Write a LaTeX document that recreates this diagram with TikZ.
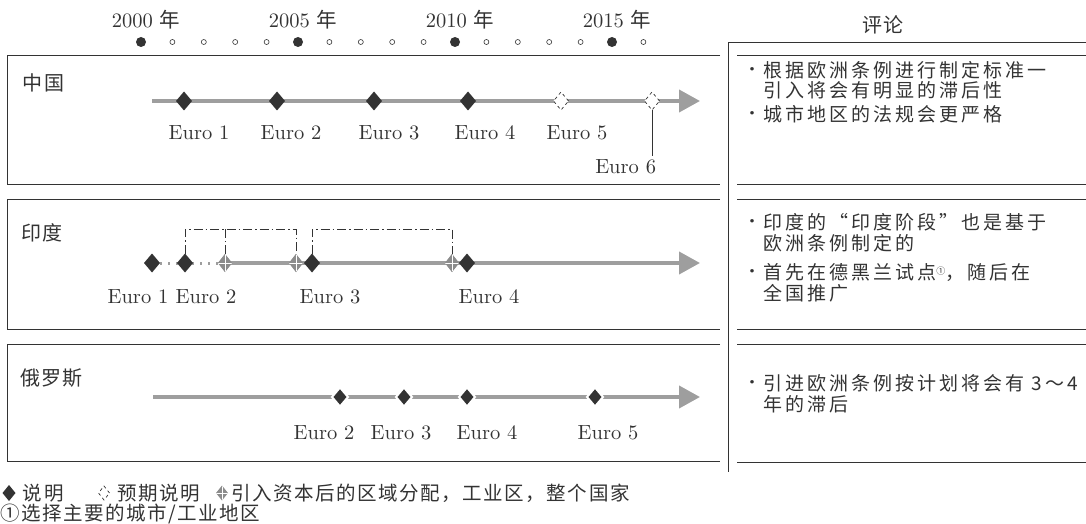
\documentclass[tikz,border=0pt]{standalone}
\usepackage{fontspec}
\newfontfamily\lmten{lmroman10-regular.otf}
\newfontfamily\cjk{Noto Sans CJK SC}
\newfontfamily\cjkl[LetterSpace=6]{Noto Sans CJK SC}
\newfontfamily\cjkw[LetterSpace=16]{Noto Sans CJK SC}
\newfontfamily\cjkg[LetterSpace=8]{Noto Sans CJK SC}
\usetikzlibrary{shapes.geometric,arrows.meta}
\definecolor{tl}{gray}{0.62}
\definecolor{dk}{gray}{0.2}
\definecolor{rg}{gray}{0.55}
\begin{document}
\begin{tikzpicture}[x=1pt,y=-1pt,
  every node/.style={inner sep=0pt, outer sep=0pt},
  lbl/.style={font=\lmten\fontsize{20.5}{22}\selectfont, text=dk},
  country/.style={font=\cjkl\fontsize{20}{22}\selectfont, anchor=west, text=dk},
  cmt/.style={font=\cjkw\fontsize{19}{20}\selectfont, anchor=west, text=dk},
  bul/.style={font=\fontsize{16}{18}\selectfont, text=dk},
  legtext/.style={font=\cjkg\fontsize{19.5}{20}\selectfont, anchor=west, text=dk},
  timeline/.style={draw=tl, line width=4pt, -{Triangle[length=21pt,width=22pt]}},
  dotted line/.style={draw=tl, line width=3pt, dash pattern=on 2pt off 6pt},
  milestone/.style={diamond, fill=dk, minimum width=16pt, minimum height=19pt},
  planned/.style={diamond, draw=dk, dashed, fill=white, line width=0.7pt, minimum width=15pt, minimum height=18pt},
  regional/.style={diamond, fill=rg, minimum width=14pt, minimum height=18pt,
     path picture={\draw[white, line width=0.8pt]
       (path picture bounding box.north) -- (path picture bounding box.south)
       (path picture bounding box.west) -- (path picture bounding box.east);}},
  gapped/.style={milestone, draw=white, line width=2pt},
  frame/.style={draw=dk, line width=0.8pt},
  bracket/.style={draw=dk, line width=0.7pt, dash pattern=on 9pt off 3pt on 1.5pt off 3pt},
  yeardot/.style={circle, fill=dk, minimum size=10pt},
  smalldot/.style={circle, draw=dk, line width=0.6pt, minimum size=5pt},
]
\useasboundingbox (0,0) rectangle (1086,524);

% ---------- year scale ----------
\foreach \y in {0,...,16} {
  \pgfmathsetmacro{\xx}{141+31.4*\y}
  \pgfmathtruncatemacro{\r}{mod(\y,5)}
  \ifnum\r=0
    \node[yeardot] (yd\y) at (\xx,42) {};
  \else
    \node[smalldot] (yd\y) at (\xx,42) {};
  \fi
}
\node[lbl] (y2000) at (146,20) {2000 {\cjk 年}};
\node[lbl] (y2005) at (303,20) {2005 {\cjk 年}};
\node[lbl] (y2010) at (460,20) {2010 {\cjk 年}};
\node[lbl] (y2015) at (617,20) {2015 {\cjk 年}};

% ---------- frames ----------
\draw[frame] (720,55) -- (7,55) -- (7,184) -- (720,184);
\draw[frame] (720,199) -- (7,199) -- (7,329) -- (720,329);
\draw[frame] (720,344) -- (7,344) -- (7,461) -- (720,461);
\draw[frame] (1086,42) -- (728,42) -- (728,472);
\draw[frame] (737,55) -- (1086,55);
\draw[frame] (737,184) -- (1086,184);
\draw[frame] (737,199) -- (1086,199);
\draw[frame] (737,329) -- (1086,329);
\draw[frame] (737,344) -- (1086,344);
\draw[frame] (737,462) -- (1086,462);

\node[font=\cjkl\fontsize{20}{22}\selectfont, text=dk] (hd) at (883,25) {评论};

% ---------- China ----------
\node[country] (cn) at (23,83) {中国};
\coordinate (cnS) at (152,101);
\coordinate (cnE) at (700,101);
\draw[timeline] (cnS) -- (cnE);
\node[milestone] (c1) at (184,101) {};
\node[milestone] (c2) at (277,101) {};
\node[milestone] (c3) at (374,101) {};
\node[milestone] (c4) at (468,101) {};
\node[planned] (c5) at (561,101) {};
\node[planned] (c6) at (652,101) {};
\node[lbl] (lc1) at (199,133) {Euro 1};
\node[lbl] (lc2) at (291,133) {Euro 2};
\node[lbl] (lc3) at (389,133) {Euro 3};
\node[lbl] (lc4) at (485,133) {Euro 4};
\node[lbl] (lc5) at (577,133) {Euro 5};
\node[lbl, anchor=east] (lc6) at (656,167) {Euro 6};
\draw[dk, line width=0.7pt] (c6.south) -- ([yshift=4pt]c6.south |- lc6.north);

% ---------- India ----------
\node[country] (in) at (21,233) {印度};
\coordinate (inE) at (700,263);
\coordinate (brk) at (0,229);
\coordinate (inS) at (152,263);
\node[regional] (r1) at (225,263) {};
\node[regional] (r2) at (296,263) {};
\node[regional] (r3) at (452,263) {};
\draw[dotted line] (inS) -- (r1.west);
\draw[timeline] (r1.center) -- (inE);
\node[regional] at (225,263) {};
\node[regional] at (296,263) {};
\node[regional] at (452,263) {};
\node[milestone] (i1) at (152,263) {};
\node[milestone] (i2) at (185,263) {};
\node[milestone] (i3) at (312,263) {};
\node[milestone] (i4) at (467,263) {};
\draw[bracket] (i2.north) -- (i2.north |- brk) -- (r2.north |- brk) -- (r2.north);
\draw[bracket] (r1.north) -- (r1.north |- brk);
\draw[bracket] (i3.north) -- (i3.north |- brk) -- (r3.north |- brk) -- (r3.north);
\node[lbl] (li1) at (138,297) {Euro 1};
\node[lbl] (li2) at (206,297) {Euro 2};
\node[lbl] (li3) at (330,297) {Euro 3};
\node[lbl] (li4) at (489,297) {Euro 4};

% ---------- Russia ----------
\node[country] (ru) at (20,378) {俄罗斯};
\coordinate (ruS) at (153,397);
\coordinate (ruE) at (700,397);
\draw[timeline] (ruS) -- (ruE);
\node[gapped] (u2) at (340,397) {};
\node[gapped] (u3) at (404,397) {};
\node[gapped] (u4) at (467,397) {};
\node[gapped] (u5) at (595,397) {};
\node[lbl] (lu2) at (324,433) {Euro 2};
\node[lbl] (lu3) at (401,433) {Euro 3};
\node[lbl] (lu4) at (487,433) {Euro 4};
\node[lbl] (lu5) at (608,433) {Euro 5};

% ---------- comments ----------
\node[bul] (b1) at (752,70) {\textbullet};
\node[cmt] (t1a) at (763,70) {根据欧洲条例进行制定标准一};
\node[cmt] (t1b) at (763,90) {引入将会有明显的滞后性};
\node[bul] (b2) at (752,114) {\textbullet};
\node[cmt] (t2) at (763,114) {城市地区的法规会更严格};

\node[bul] (b3) at (752,222) {\textbullet};
\node[cmt] (t3a) at (763,222) {印度的“印度阶段”也是基于};
\node[cmt] (t3b) at (763,243) {欧洲条例制定的};
\node[bul] (b4) at (752,272) {\textbullet};
\node[cmt] (t4a) at (763,272) {首先在德黑兰试点\raisebox{5pt}{\fontsize{9}{9}\selectfont ①}，随后在};
\node[cmt] (t4b) at (763,293) {全国推广};

\node[bul] (b5) at (752,383) {\textbullet};
\node[cmt] (t5a) at (763,383) {引进欧洲条例按计划将会有 3～4};
\node[cmt] (t5b) at (763,404) {年的滞后};

% ---------- legend ----------
\node[milestone, minimum width=13pt, minimum height=16pt] (k1) at (9,493) {};
\node[legtext] (k1t) at (23,493) {说明};
\node[planned, minimum width=11pt, minimum height=14pt] (k2) at (104,493) {};
\node[legtext] (k2t) at (117,493) {预期说明};
\node[regional, minimum width=12pt, minimum height=15pt] (k3) at (222,493) {};
\node[legtext] (k3t) at (231,493) {引入资本后的区域分配，工业区，整个国家};
\node[legtext] (k4t) at (0,514) {①选择主要的城市/工业地区};
\end{tikzpicture}
\end{document}
